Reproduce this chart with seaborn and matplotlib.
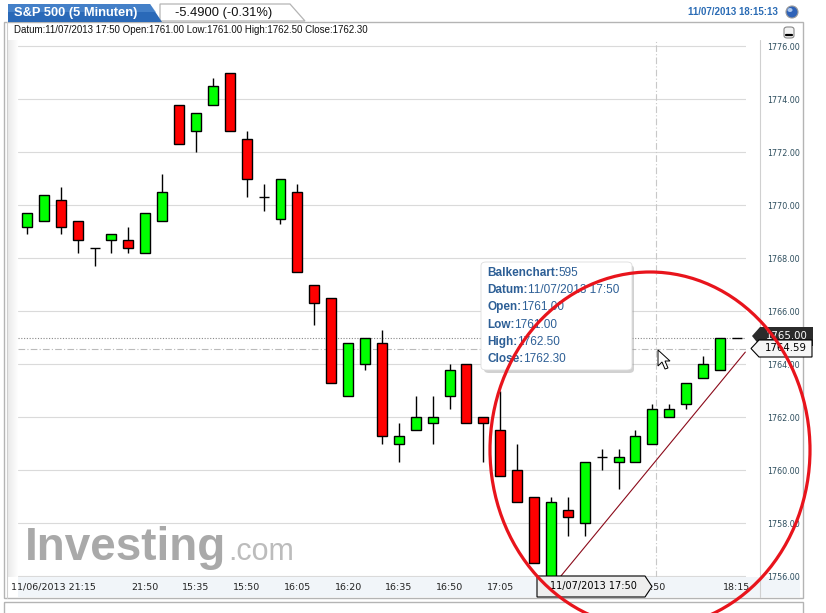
import numpy as np
import pandas as pd
import matplotlib
matplotlib.use('Agg')
import matplotlib.pyplot as plt
import matplotlib.patches as mpatches
import matplotlib.lines as mlines
import matplotlib.text as mtext
import matplotlib.transforms as mtransforms
import seaborn as sns

# ============================================================
# Daten (S&P 500, 5-Minuten-Kerzen)
# ============================================================
opens = [1769.2, 1769.4, 1770.2, 1769.4, 1768.4, 1768.7, 1768.7, 1768.2, 1769.4,
         1773.8, 1772.8, 1773.8, 1775.0, 1772.5, 1770.3, 1769.5, 1770.5, 1767.0,
         1766.5, 1762.8, 1764.0, 1764.8, 1761.0, 1761.5, 1761.8, 1762.8, 1764.0,
         1762.0, 1761.5, 1760.0, 1759.0, 1755.8, 1758.5, 1758.0, 1760.5, 1760.3,
         1760.3, 1761.0, 1762.0, 1762.5, 1763.5, 1763.8, 1765.0]
highs = [1769.7, 1770.4, 1770.7, 1769.4, 1768.4, 1768.9, 1769.2, 1769.7, 1771.2,
         1773.8, 1773.5, 1774.8, 1775.0, 1772.8, 1770.8, 1771.0, 1770.8, 1767.0,
         1766.5, 1764.8, 1765.0, 1765.3, 1761.8, 1762.8, 1762.8, 1764.0, 1764.0,
         1762.0, 1763.0, 1761.0, 1759.0, 1759.0, 1759.0, 1760.3, 1760.8, 1760.8,
         1761.5, 1762.5, 1762.5, 1763.3, 1764.3, 1765.0, 1765.0]
lows = [1768.9, 1769.4, 1768.9, 1768.2, 1767.7, 1768.2, 1768.2, 1768.2, 1769.4,
        1772.3, 1772.0, 1773.8, 1772.8, 1770.3, 1769.8, 1769.3, 1767.5, 1765.5,
        1763.3, 1762.8, 1763.8, 1761.0, 1760.3, 1761.5, 1761.0, 1762.3, 1761.8,
        1760.3, 1759.8, 1758.8, 1756.5, 1755.8, 1757.5, 1757.5, 1760.0, 1759.3,
        1760.3, 1761.0, 1762.0, 1762.3, 1763.5, 1763.8, 1765.0]
closes = [1769.7, 1770.4, 1769.2, 1768.7, 1768.4, 1768.9, 1768.4, 1769.7, 1770.5,
          1772.3, 1773.5, 1774.5, 1772.8, 1771.0, 1770.3, 1771.0, 1767.5, 1766.3,
          1763.3, 1764.8, 1765.0, 1761.3, 1761.3, 1762.0, 1762.0, 1763.8, 1761.8,
          1761.8, 1759.8, 1758.8, 1756.5, 1758.8, 1758.25, 1760.3, 1760.5, 1760.5,
          1761.3, 1762.3, 1762.3, 1763.3, 1764.0, 1765.0, 1765.0]

tick_pos = [7, 10, 13, 16, 19, 22, 25, 28, 37, 42]
tick_labels = ['21:50', '15:35', '15:50', '16:05', '16:20', '16:35',
               '16:50', '17:05', '17:50', '18:15']
first_label = '11/06/2013 21:15'
y_ticks = np.arange(1756, 1777, 2)

last_price = 1765.00
mark_price = 1764.59
cursor_bar = 37.2
trend_x = [31.4, 42.5]
trend_y = [1755.86, 1764.46]

tip_rows = [('Balkenchart:', '595'), ('Datum:', '11/07/2013 17:50'),
            ('Open:', '1761.00'), ('Low:', '1761.00'),
            ('High:', '1762.50'), ('Close:', '1762.30')]

df = pd.DataFrame({'open': opens, 'high': highs, 'low': lows, 'close': closes})
df['i'] = np.arange(len(df))
df['up'] = df['close'] >= df['open']
df['doji'] = (df['close'] - df['open']).abs() < 0.01

# ============================================================
# Layout
# ============================================================
sns.set_style('white')
plt.rcParams['font.family'] = ['DejaVu Sans']

W, H = 826, 613
def fx(x):
    return x / W
def fy(y):
    return 1 - y / H

fig = plt.figure(figsize=(8.26, 6.13), dpi=100)
fig.patch.set_facecolor('white')

ax = fig.add_axes([fx(18), fy(577), (746 - 18) / W, (577 - 40) / H])
ax.set_facecolor('white')

# Kerzen
body_w = 0.59
bars = df[~df['doji']]
bottoms = np.minimum(bars['open'], bars['close'])
heights = (bars['close'] - bars['open']).abs()
colors = np.where(bars['up'], '#00ff00', '#ff0000')
ax.vlines(df['i'], df['low'], df['high'], color='black', lw=1.0, zorder=2)
ax.bar(bars['i'], heights, bottom=bottoms, width=body_w, color=colors,
       edgecolor='black', linewidth=1.0, zorder=3)
dj = df[df['doji']]
ax.hlines(dj['open'], dj['i'] - body_w / 2, dj['i'] + body_w / 2,
          color='black', lw=1.0, zorder=3)

# Hilfslinien
for yv in y_ticks:
    ax.axhline(yv, color='#dadada', lw=0.8, zorder=0.5)
ax.axhline(last_price, color='#888888', lw=0.8, ls=(0, (1, 1.5)), zorder=1)
ax.axhline(mark_price, color='#bbbbbb', lw=0.8, ls=(0, (6, 2, 1, 2)), zorder=1)
ax.axvline(cursor_bar, color='#c8c8c8', lw=0.8, ls=(0, (6, 2, 1, 2)), zorder=1)
sns.lineplot(x=trend_x, y=trend_y, ax=ax, color='#8b0a1a', lw=0.8, zorder=4)

ax.set_xlim(-0.53, 42.54)
ax.set_ylim(1755.97, 1776.24)
sns.despine(ax=ax, left=True, bottom=True, right=True, top=True)

ax.yaxis.tick_right()
ax.set_yticks(y_ticks, [f'{v:.2f}' for v in y_ticks])
ax.tick_params(axis='y', length=0, pad=15, labelsize=5.8, labelcolor='#2f4f5f')
ax.set_xticks([0] + tick_pos, [first_label] + tick_labels)
ax.tick_params(axis='x', length=0, pad=4, labelsize=6.8, labelcolor='#222222')
lbl0 = ax.get_xticklabels()[0]
lbl0.set_ha('left')
lbl0.set_transform(lbl0.get_transform() +
                   mtransforms.ScaledTranslation(-16 / 100, 0, fig.dpi_scale_trans))

# Wasserzeichen
ax.text(fx(25), fy(560), 'Investing', transform=fig.transFigure, fontsize=33,
        fontweight='bold', color='#a9a9a9', family='Liberation Sans',
        va='baseline', ha='left', zorder=0.6)
ax.text(fx(228), fy(560), '.com', transform=fig.transFigure, fontsize=22,
        color='#bcbcbc', family='Liberation Sans', va='baseline', ha='left',
        zorder=0.6)

# ============================================================
# Rahmen / Kopfzeile
# ============================================================
def add_poly(pts, **kw):
    p = mpatches.Polygon([(fx(x), fy(y)) for x, y in pts], closed=True,
                         transform=fig.transFigure, **kw)
    fig.add_artist(p)
    return p

# x-Achsen-Band
add_poly([(18, 577), (800, 577), (800, 597), (18, 597)], facecolor='#f1f5f9',
         edgecolor='none', zorder=-1)
# linker Verlauf
for k in range(10):
    add_poly([(8 + k, 40), (9 + k, 40), (9 + k, 577), (8 + k, 577)],
             facecolor=(0.85, 0.85, 0.85, 0.5 * (1 - k / 10)), edgecolor='none', zorder=-1)

# Panelrahmen
add_poly([(4, 22), (803, 22), (803, 598), (4, 598)], facecolor='none',
         edgecolor='#b4b4b4', lw=1.0, zorder=1)
fig.add_artist(mlines.Line2D([fx(7), fx(7)], [fy(22), fy(598)], color='#cfcfcf',
                             lw=0.8, transform=fig.transFigure))
fig.add_artist(mlines.Line2D([fx(760), fx(760)], [fy(40), fy(597)], color='#d0d0d0',
                             lw=0.8, transform=fig.transFigure))
add_poly([(4, 602), (803, 602), (803, 640), (4, 640)], facecolor='none',
         edgecolor='#b4b4b4', lw=1.0, zorder=1)

# Reiter
add_poly([(160, 4), (290, 4), (305, 21), (160, 21)], facecolor='white',
         edgecolor='#b4b4b4', lw=0.9, zorder=2)
add_poly([(8, 4), (150, 4), (162, 22), (8, 22)], facecolor='#2a69b8',
         edgecolor='none', zorder=3)
add_poly([(8, 4), (150, 4), (156, 12), (8, 12)], facecolor='#5a93d6',
         edgecolor='none', alpha=0.55, zorder=3)
fig.text(fx(14), fy(13), 'S&P 500 (5 Minuten)', color='white', fontsize=9.3,
         fontweight='bold', family='Liberation Sans', va='center', zorder=4)
fig.text(fx(175), fy(13), '-5.4900 (-0.31%)', color='#111111', fontsize=9.3,
         family='Liberation Sans', va='center', zorder=4)
fig.text(fx(14), fy(30), 'Datum:11/07/2013 17:50 Open:1761.00 Low:1761.00 '
         'High:1762.50 Close:1762.30', color='#111111', fontsize=7,
         family='Liberation Sans', va='center', zorder=4)
fig.text(fx(778), fy(12), '11/07/2013 18:15:13', color='#2b6cb5', fontsize=7,
         fontweight='bold', family='Liberation Sans', va='center', ha='right', zorder=4)
fig.add_artist(mpatches.Ellipse((fx(792), fy(12)), 12 / W, 12 / H, transform=fig.transFigure,
                                facecolor='#2f63b8', edgecolor='#9a9a9a', lw=0.8, zorder=4))
fig.add_artist(mpatches.Ellipse((fx(790), fy(10)), 5 / W, 4 / H, transform=fig.transFigure,
                                facecolor='#a9c6ee', edgecolor='none', zorder=4))
fig.add_artist(mpatches.FancyBboxPatch((fx(784), fy(38)), 10 / W, 11 / H,
                                       boxstyle='round,pad=0,rounding_size=0.004',
                                       transform=fig.transFigure, facecolor='#f4f4f4',
                                       edgecolor='#888888', lw=0.8, zorder=4))
fig.add_artist(mlines.Line2D([fx(786), fx(792)], [fy(35), fy(35)], color='black',
                             lw=1.6, transform=fig.transFigure, zorder=5))

# Preis-Marken rechts
add_poly([(752, 336), (760, 327), (813, 327), (813, 346), (760, 346)],
         facecolor='#2b2b2b', edgecolor='none', zorder=5)
fig.text(fx(787), fy(336), f'{last_price:.2f}', color='white', fontsize=7.3,
         ha='center', va='center', zorder=5)
add_poly([(751, 348.5), (759, 340), (812, 340), (812, 357), (759, 357)],
         facecolor='#f6f6f6', edgecolor='black', lw=0.8, zorder=6)
fig.text(fx(786), fy(348.5), f'{mark_price:.2f}', color='black', fontsize=7.3,
         ha='center', va='center', zorder=6)

# Zeit-Marke unten
add_poly([(537, 576), (645, 576), (652, 586.5), (645, 597), (537, 597)],
         facecolor='#eeeeee', edgecolor='black', lw=0.8, zorder=5)
fig.text(fx(593), fy(586.5), '11/07/2013 17:50', color='black', fontsize=7,
         ha='center', va='center', zorder=6)

# Tooltip
fig.add_artist(mpatches.FancyBboxPatch((fx(484), fy(373)), 150 / W, 108 / H,
                                       boxstyle='round,pad=0,rounding_size=0.006',
                                       transform=fig.transFigure, facecolor='#9a9a9a',
                                       edgecolor='none', alpha=0.45, zorder=6))
fig.add_artist(mpatches.FancyBboxPatch((fx(481), fy(370)), 151 / W, 108 / H,
                                       boxstyle='round,pad=0,rounding_size=0.006',
                                       transform=fig.transFigure, facecolor='white',
                                       edgecolor='#dddddd', lw=0.6, zorder=6.5))
tip_blue = '#2d5f96'
for k, (lab, val) in enumerate(tip_rows):
    yy = 273 + k * 17.2
    t = fig.text(fx(487), fy(yy), lab, color=tip_blue, fontsize=8.5, fontweight='bold',
                 family='Liberation Sans', va='center', ha='left', zorder=7)
    fig.add_artist(mtext.Annotation(val, xy=(1, 0.5), xycoords=t, va='center', ha='left',
                                    color=tip_blue, fontsize=8.5, family='Liberation Sans',
                                    zorder=7))

# Mauszeiger
add_poly([(658, 350), (658, 366), (662, 362), (665, 369), (668, 368), (665, 361),
          (670, 361)], facecolor='white', edgecolor='black', lw=0.7, zorder=7)

# roter Kreis
fig.add_artist(mpatches.Ellipse((fx(650), fy(450)), 320 / W, 356 / H,
                                transform=fig.transFigure, facecolor='none',
                                edgecolor='#e8141c', lw=2.3, zorder=9))

fig.savefig('out.png', dpi=100)
